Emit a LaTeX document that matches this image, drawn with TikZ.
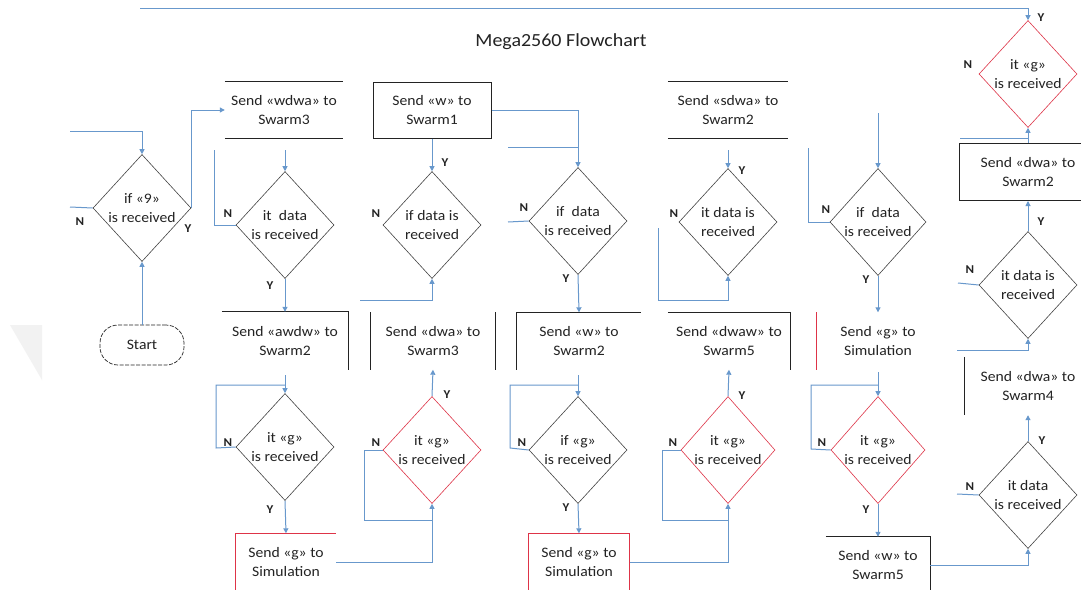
\documentclass[tikz,border=0pt]{standalone}
\usepackage{fontspec}
\setmainfont{Carlito}[FakeStretch=1.08]
\usetikzlibrary{arrows.meta,shapes.geometric}
\definecolor{flowblue}{RGB}{104,152,204}
\definecolor{dred}{RGB}{222,52,72}
\definecolor{ink}{RGB}{35,35,35}
\tikzset{
  txt/.style={align=center,font=\fontsize{14.5}{19.5}\selectfont,text=ink,inner sep=0pt},
  dia/.style={shape=diamond,draw=ink!85,line width=0.6pt,inner sep=0pt,minimum width=98pt,minimum height=107pt},
  rdia/.style={dia,draw=dred},
  boxn/.style={txt,minimum height=57pt},
  flow/.style={draw=flowblue,line width=1pt,-{Triangle[length=5pt,width=5pt]}},
  plain/.style={draw=flowblue,line width=1pt},
  edge/.style={draw=ink,line width=1pt},
  redge/.style={draw=dred,line width=1pt},
  yn/.style={font=\fontsize{12}{12}\selectfont\bfseries,text=ink,inner sep=0pt}
}
\begin{document}
\begin{tikzpicture}[x=1pt,y=-1pt]
\useasboundingbox (0,0) rectangle (1081,589);
\fill[white] (0,0) rectangle (1081,589);
\fill[gray!10] (10,325) -- (42,325) -- (42,380) -- cycle;

\node[font=\fontsize{18.5}{20}\selectfont,text=ink] (title) at (561,42) {Mega2560 Flowchart};

% column 0
\node[dia] (d0) at (142,208) {};
\node[txt] (d0t) at (d0) {if «9»\\is received};
\node[txt,draw=ink,dash pattern=on 4pt off 1.5pt,line width=0.7pt,rounded corners=18pt,minimum width=84pt,minimum height=40pt] (start) at (142,345) {Start};
\coordinate (c0a) at (70,131);
\coordinate (c0n) at (70,207);
\node[yn] (n0) at (80,222) {N};
\node[yn] (y0) at (188,229) {Y};

% column 1
\node[boxn,minimum width=118pt] (b1) at (284,110) {Send «wdwa» to\\Swarm3};
\node[dia] (d1) at (285,225) {};
\node[txt] (d1t) at (d1) {it\enspace data\\is received};
\node[boxn,minimum width=126pt,minimum height=58pt] (b2) at (285,341) {Send «awdw» to\\Swarm2};
\node[dia] (d1g) at (285,447) {};
\node[txt] (d1gt) at (d1g) {it «g»\\is received};
\node[boxn,minimum width=100pt] (s1) at (286,562) {Send «g» to\\Simulation};
\coordinate (c1a) at (285,150);
\coordinate (c1n) at (214,150);
\coordinate (c1b) at (285,375);
\coordinate (c1l) at (216,448);
\coordinate (c1t) at (285,385);
\node[yn] (n1) at (228,214) {N};
\node[yn] (y1) at (270,286) {Y};
\node[yn] (n1g) at (228,443) {N};
\node[yn] (y1g) at (270,510) {Y};

% column 2
\node[boxn,minimum width=118pt,minimum height=56pt,draw=ink,line width=1pt] (b3) at (432,110) {Send «w» to\\Swarm1};
\node[dia] (d2) at (432,225) {};
\node[txt] (d2t) at (d2) {if data is\\received};
\node[boxn,minimum width=124pt] (b4) at (433,341) {Send «dwa» to\\Swarm3};
\node[rdia] (d2g) at (432,450) {};
\node[txt] (d2gt) at (d2g) {it «g»\\is received};
\coordinate (c2n) at (360,300);
\coordinate (c2l) at (364,450);
\coordinate (c2b) at (432,520);
\node[yn] (y2) at (445,163) {Y};
\node[yn] (n2) at (376,214) {N};
\node[yn] (y2g) at (447,395) {Y};
\node[yn] (n2g) at (376,443) {N};

% column 3
\node[dia] (d3) at (578,221) {};
\node[txt] (d3t) at (d3) {if\enspace data\\is received};
\node[boxn,minimum width=124pt] (b5) at (579,341) {Send «w» to\\Swarm2};
\node[dia] (d3g) at (578,450) {};
\node[txt] (d3gt) at (d3g) {if «g»\\is received};
\node[boxn,minimum width=101pt] (s2) at (579,562) {Send «g» to\\Simulation};
\coordinate (c3j) at (508,147);
\coordinate (c3k) at (578,147);
\coordinate (c3n) at (508,222);
\coordinate (c3b) at (578,375);
\coordinate (c3l) at (510,448);
\coordinate (c3t) at (578,385);
\node[yn] (n3) at (524,208) {N};
\node[yn] (y3) at (566,279) {Y};
\node[yn] (n3g) at (522,443) {N};
\node[yn] (y3g) at (566,508) {Y};

% column 4
\node[boxn,minimum width=120pt] (b6) at (728,110) {Send «sdwa» to\\Swarm2};
\node[dia] (d4) at (728,222) {};
\node[txt] (d4t) at (d4) {it data is\\received};
\node[boxn,minimum width=122pt] (b7) at (729,341) {Send «dwaw» to\\Swarm5};
\node[rdia,minimum width=94pt] (d4g) at (728,450) {};
\node[txt] (d4gt) at (d4g) {it «g»\\is received};
\coordinate (c4a) at (728,150);
\coordinate (c4n) at (658,228);
\coordinate (c4b) at (728,300);
\coordinate (c4l) at (662,450);
\coordinate (c4c) at (728,520);
\node[yn] (y4) at (742,171) {Y};
\node[yn] (n4) at (674,214) {N};
\node[yn] (y4g) at (742,396) {Y};
\node[yn] (n4g) at (673,443) {N};

% column 5
\node[dia,minimum width=96pt] (d5) at (878,222) {};
\node[txt] (d5t) at (d5) {if\enspace data\\is received};
\node[boxn,minimum width=122pt] (b8) at (878,341) {Send «g» to\\Simulation};
\node[rdia,minimum width=94pt] (d5g) at (878,450) {};
\node[txt] (d5gt) at (d5g) {it «g»\\is received};
\node[boxn,minimum width=104pt,minimum height=56pt] (b9) at (878,565) {Send «w» to\\Swarm5};
\coordinate (c5a) at (878,113);
\coordinate (c5n) at (808,148);
\coordinate (c5b) at (878,372);
\coordinate (c5l) at (811,449);
\coordinate (c5t) at (878,385);
\node[yn] (n5) at (826,210) {N};
\node[yn] (y5) at (866,280) {Y};
\node[yn] (n5g) at (822,443) {N};
\node[yn] (y5g) at (866,510) {Y};

% column 6
\node[rdia] (d6a) at (1028,74) {};
\node[txt] (d6at) at (d6a) {it «g»\\is received};
\node[boxn,minimum width=138pt,draw=ink,line width=1pt] (b10) at (1028,172) {Send «dwa» to\\Swarm2};
\node[dia] (d6b) at (1028,285) {};
\node[txt] (d6bt) at (d6b) {it data is\\received};
\node[boxn,minimum width=126pt,minimum height=58pt] (b11) at (1028,386) {Send «dwa» to\\Swarm4};
\node[dia] (d6c) at (1028,495) {};
\node[txt] (d6ct) at (d6c) {it data\\is received};
\coordinate (ctop) at (140,8);
\coordinate (c6j) at (960,138);
\coordinate (c6k) at (1028,138);
\coordinate (c6n) at (958,283);
\coordinate (c6m) at (957,350);
\coordinate (c6p) at (957,494);
\node[yn] (y6a) at (1041,18) {Y};
\node[yn] (n6a) at (968,65) {N};
\node[yn] (y6b) at (1041,222) {Y};
\node[yn] (n6b) at (970,270) {N};
\node[yn] (y6c) at (1042,441) {Y};
\node[yn] (n6c) at (970,487) {N};

% partial box borders
\draw[edge] (b1.north west) -- (b1.north east) (b1.south west) -- (b1.south east);
\draw[edge] (b2.north west) -- (b2.north east) -- (b2.south east);
\draw[redge] (s1.south west) -- (s1.north west) -- (s1.north east);
\draw[edge] (b4.north west) -- (b4.south west) (b4.north east) -- (b4.south east);
\draw[edge] (b5.south west) -- (b5.north west) -- (b5.north east);
\draw[redge] (s2.south west) -- (s2.north west) -- (s2.north east) -- (s2.south east);
\draw[edge] (b6.north west) -- (b6.north east) (b6.south west) -- (b6.south east);
\draw[edge] (b7.north west) -- (b7.north east) -- (b7.south east);
\draw[redge] (b8.north west) -- (b8.south west);
\draw[edge] (b9.north west) -- (b9.north east) -- (b9.south east);
\draw[edge] (b11.north west) -- (b11.south west);

% connectors
\draw[flow] (c0a) -| (d0.north);
\draw[plain] (d0.west) -- (c0n);
\draw[flow] (d0.east) |- (b1.west);
\draw[flow] (start.north) -- (d0.south);

\draw[flow] (c1a) -- (d1.north);
\draw[plain] (d1.west) -| (c1n);
\draw[flow] (d1.south) -- (b2.north);
\draw[flow] (c1b) -- (d1g.north);
\draw[plain] (d1g.west) -- (c1l) |- (c1t);
\draw[flow] (d1g.south) -- (s1.north);
\draw[flow] (s1.east) -| (d2g.south);

\draw[flow] (b3.south) -- (d2.north);
\draw[flow] (b3.east) -| (d3.north);
\draw[flow] (c2n) -| (d2.south);
\draw[flow] (d2g.north) -- (b4.south);
\draw[plain] (d2g.west) -- (c2l) |- (c2b);

\draw[plain] (c3j) -- (c3k);
\draw[plain] (c3n) -- (d3.west);
\draw[flow] (d3.south) -- (b5.north);
\draw[flow] (c3b) -- (d3g.north);
\draw[plain] (d3g.west) -- (c3l) |- (c3t);
\draw[flow] (d3g.south) -- (s2.north);
\draw[flow] (s2.east) -| (d4g.south);

\draw[flow] (c4a) -- (d4.north);
\draw[flow] (c4n) |- (c4b) -- (d4.south);
\draw[flow] (d4g.north) -- (b7.south);
\draw[plain] (d4g.west) -- (c4l) |- (c4c);

\draw[flow] (c5a) -- (d5.north);
\draw[plain] (c5n) |- (d5.west);
\draw[flow] (d5.south) -- (b8.north);
\draw[flow] (c5b) -- (d5g.north);
\draw[plain] (d5g.west) -- (c5l) |- (c5t);
\draw[flow] (d5g.south) -- (b9.north);
\draw[flow] (b9.east) -| (d6c.south);

\draw[flow] (ctop) -| (d6a.north);
\draw[flow] (b10.north) -- (d6a.south);
\draw[plain] (c6j) -- (c6k);
\draw[flow] (d6b.north) -- (b10.south);
\draw[plain] (c6n) -- (d6b.west);
\draw[flow] (c6m) -| (d6b.south);
\draw[flow] (d6c.north) -- (b11.south);
\draw[plain] (c6p) -- (d6c.west);
\end{tikzpicture}
\end{document}
